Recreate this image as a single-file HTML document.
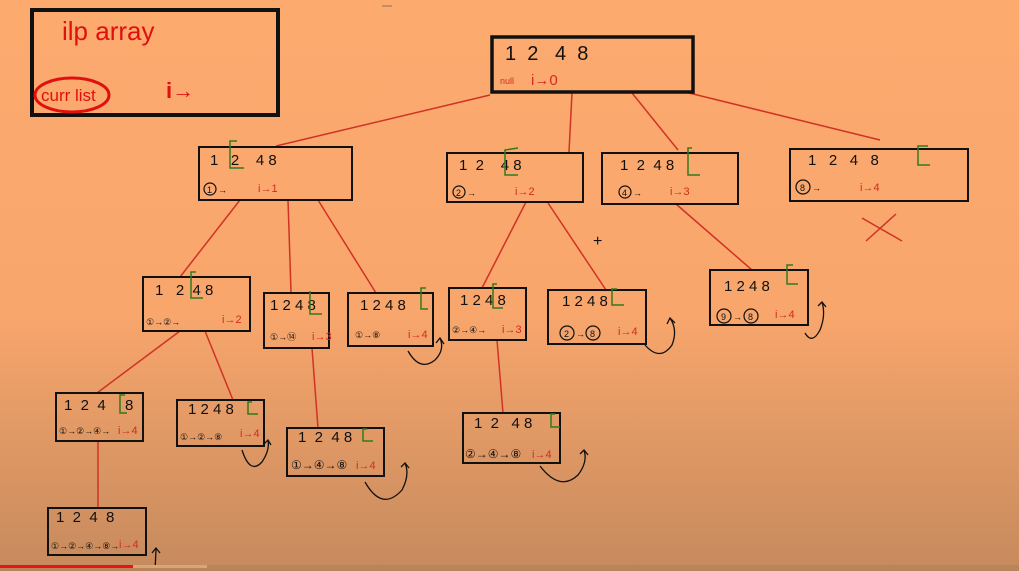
<!DOCTYPE html>
<html><head><meta charset="utf-8"><style>
html,body{margin:0;padding:0;width:1019px;height:571px;overflow:hidden}
svg{display:block}
text{font-family:"Liberation Sans",sans-serif}
.n{font-size:15px;fill:#111}
.r{font-size:11px;fill:#d42a22}
.c{font-size:9px;fill:#111}
.b{fill:none;stroke:#111;stroke-width:2}
.l{stroke:#d03226;stroke-width:1.5}
.g{fill:none;stroke:#2f7a1e;stroke-width:1.5}
.ci{fill:none;stroke:#111;stroke-width:1.2}
.cu{fill:none;stroke:#111;stroke-width:1.3}
</style></head><body>
<svg width="1019" height="571" viewBox="0 0 1019 571">
<defs><linearGradient id="bg" x1="0" y1="0" x2="0" y2="1">
<stop offset="0" stop-color="#fcaa6e"/><stop offset="0.55" stop-color="#f8a66c"/><stop offset="1" stop-color="#c68a5d"/></linearGradient></defs>
<rect width="1019" height="571" fill="url(#bg)"/>

<!-- legend -->
<rect x="32" y="10" width="246" height="105" fill="none" stroke="#111" stroke-width="4"/>
<text x="62" y="40" style="font-size:26px;fill:#e01010">ilp array</text>
<ellipse cx="72" cy="95" rx="37" ry="17" fill="none" stroke="#e01010" stroke-width="3"/>
<text x="41" y="101" style="font-size:17px;fill:#e01010">curr list</text>
<text x="166" y="98" style="font-size:22px;fill:#e01010;font-weight:bold">i→</text>

<!-- connectors -->
<g class="l">
<line x1="490" y1="95" x2="276" y2="146"/><line x1="572" y1="93" x2="569" y2="152"/>
<line x1="632" y1="93" x2="678" y2="150"/><line x1="685" y1="92" x2="880" y2="140"/>
<line x1="240" y1="200" x2="180" y2="277"/><line x1="288" y1="200" x2="291" y2="292"/>
<line x1="318" y1="200" x2="376" y2="293"/>
<line x1="526" y1="202" x2="482" y2="288"/><line x1="548" y1="203" x2="606" y2="290"/>
<line x1="676" y1="204" x2="752" y2="270"/>
<line x1="180" y1="331" x2="97" y2="393"/><line x1="205" y1="331" x2="233" y2="400"/>
<line x1="312" y1="348" x2="318" y2="428"/>
<line x1="497" y1="340" x2="503" y2="413"/>
<line x1="98" y1="441" x2="98" y2="508"/>
<line x1="862" y1="218" x2="902" y2="241"/><line x1="896" y1="214" x2="866" y2="241"/>
</g>

<!-- root -->
<rect x="492" y="37" width="201" height="55" fill="none" stroke="#111" stroke-width="3.5"/>
<text x="505" y="60" style="font-size:20px;fill:#111">1&#160;&#160;2&#160;&#160;&#160;4&#160;&#160;8</text>
<text x="500" y="84" style="font-size:9px;fill:#d42a22">null</text>
<text x="531" y="85" style="font-size:15px;fill:#d42a22">i→0</text>

<!-- L1 -->
<rect x="199" y="147" width="153" height="53" class="b"/>
<text x="210" y="165" class="n">1&#160;&#160;&#160;2&#160;&#160;&#160;&#160;4 8</text>
<path d="M237 141 L230 141 L230 168 L244 168" class="g"/>
<circle cx="210" cy="189" r="6" class="ci"/><text x="207" y="193" class="c">1</text><text x="218" y="193" class="c">→</text>
<text x="258" y="192" class="r">i→1</text>

<rect x="447" y="153" width="136" height="49" class="b"/>
<text x="459" y="170" class="n">1&#160;&#160;2&#160;&#160;&#160;&#160;4 8</text>
<path d="M518 148 L505 150 L505 175 L518 175" class="g"/>
<circle cx="459" cy="192" r="6" class="ci"/><text x="456" y="196" class="c">2</text><text x="467" y="196" class="c">→</text>
<text x="515" y="195" class="r">i→2</text>

<rect x="602" y="153" width="136" height="51" class="b"/>
<text x="620" y="170" class="n">1&#160;&#160;2&#160;&#160;4&#160;8</text>
<path d="M692 148 L688 148 L688 175 L700 175" class="g"/>
<circle cx="625" cy="192" r="6" class="ci"/><text x="622" y="196" class="c">4</text><text x="633" y="196" class="c">→</text>
<text x="670" y="195" class="r">i→3</text>

<rect x="790" y="149" width="178" height="52" class="b"/>
<text x="808" y="165" class="n">1&#160;&#160;&#160;2&#160;&#160;&#160;4&#160;&#160;&#160;8</text>
<path d="M928 146 L918 146 L918 165 L930 165" class="g"/>
<circle cx="803" cy="187" r="7" class="ci"/><text x="800" y="191" class="c">8</text><text x="812" y="191" class="c">→</text>
<text x="860" y="191" class="r">i→4</text>

<!-- L2 -->
<rect x="143" y="277" width="107" height="54" class="b"/>
<text x="155" y="295" class="n">1&#160;&#160;&#160;2&#160;&#160;4 8</text>
<path d="M196 272 L191 272 L191 298 L203 298" class="g"/>
<text x="146" y="325" class="c">①→②→</text><text x="222" y="323" class="r">i→2</text>

<rect x="264" y="293" width="65" height="55" class="b"/>
<text x="270" y="310" class="n">1 2 4 8</text>
<path d="M310 291 L310 314 L322 314" class="g"/>
<text x="270" y="340" class="c">①→⑭</text><text x="312" y="340" class="r">i→3</text>

<rect x="348" y="293" width="85" height="53" class="b"/>
<text x="360" y="310" class="n">1 2 4 8</text>
<path d="M426 288 L421 288 L421 309 L428 309" class="g"/>
<text x="355" y="338" class="c">①→⑧</text><text x="408" y="338" class="r">i→4</text>

<rect x="449" y="288" width="77" height="52" class="b"/>
<text x="460" y="305" class="n">1 2 4 8</text>
<path d="M497 284 L493 284 L493 308 L503 308" class="g"/>
<text x="452" y="333" class="c">②→④→</text><text x="502" y="333" class="r">i→3</text>

<rect x="548" y="290" width="98" height="54" class="b"/>
<text x="562" y="306" class="n">1 2 4 8</text>
<path d="M617 289 L612 289 L612 305 L624 305" class="g"/>
<circle cx="567" cy="333" r="7" class="ci"/><text x="564" y="337" class="c">2</text><text x="576" y="337" class="c">→</text>
<circle cx="593" cy="333" r="7" class="ci"/><text x="590" y="337" class="c">8</text>
<text x="618" y="335" class="r">i→4</text>

<rect x="710" y="270" width="98" height="55" class="b"/>
<text x="724" y="291" class="n">1 2 4 8</text>
<path d="M793 265 L787 265 L787 284 L798 284" class="g"/>
<circle cx="724" cy="316" r="7" class="ci"/><text x="721" y="320" class="c">9</text><text x="733" y="320" class="c">→</text>
<circle cx="751" cy="316" r="7" class="ci"/><text x="748" y="320" class="c">8</text>
<text x="775" y="318" class="r">i→4</text>

<!-- L3 -->
<rect x="56" y="393" width="87" height="48" class="b"/>
<text x="64" y="410" class="n">1&#160;&#160;2&#160;&#160;4</text>
<text x="125" y="410" class="n">8</text>
<path d="M125 395 L120 395 L120 413 L127 413" class="g"/>
<text x="59" y="434" class="c">①→②→④→</text><text x="118" y="434" class="r">i→4</text>

<rect x="177" y="400" width="87" height="46" class="b"/>
<text x="188" y="414" class="n">1 2 4 8</text>
<path d="M252 402 L248 402 L248 414 L258 414" class="g"/>
<text x="180" y="440" class="c">①→②→⑧</text><text x="240" y="437" class="r">i→4</text>

<rect x="287" y="428" width="97" height="48" class="b"/>
<text x="298" y="442" class="n">1&#160;&#160;2&#160;&#160;4 8</text>
<path d="M367 429 L363 429 L363 441 L373 441" class="g"/>
<text x="291" y="469" style="font-size:12px;fill:#111">①→④→⑧</text><text x="356" y="469" class="r">i→4</text>

<rect x="463" y="413" width="97" height="50" class="b"/>
<text x="474" y="428" class="n">1&#160;&#160;2&#160;&#160;&#160;4 8</text>
<path d="M555 414 L551 414 L551 427 L560 427" class="g"/>
<text x="465" y="458" style="font-size:12px;fill:#111">②→④→⑧</text><text x="532" y="458" class="r">i→4</text>

<!-- L4 -->
<rect x="48" y="508" width="98" height="47" class="b"/>
<text x="56" y="522" class="n">1&#160;&#160;2&#160;&#160;4&#160;&#160;8</text>
<text x="51" y="549" class="c">①→②→④→⑧→</text><text x="119" y="548" class="r">i→4</text>

<!-- curved arrows -->
<g class="cu">
<path d="M408 351 Q420 372 435 360 Q445 350 440 338 M436 343 L440 338 L444 344"/>
<path d="M645 345 Q660 362 672 345 Q678 330 670 318 M667 324 L670 318 L675 323"/>
<path d="M805 333 Q812 345 820 330 Q826 315 822 302 M818 306 L822 302 L826 307"/>
<path d="M242 450 Q250 475 262 462 Q270 450 268 440 M264 444 L268 440 L271 445"/>
<path d="M365 482 Q382 512 402 490 Q410 475 405 463 M401 467 L405 463 L409 468"/>
<path d="M540 466 Q560 492 578 475 Q588 462 584 450 M580 454 L584 450 L588 455"/>
<path d="M155 571 L156 549 M152 553 L156 548 L160 553"/>
</g>

<!-- markers -->
<text x="593" y="246" style="font-size:16px;fill:#111">+</text>
<line x1="382" y1="6" x2="392" y2="6" stroke="#777" stroke-width="1"/>

<!-- progress bar -->
<rect x="0" y="565" width="1019" height="6" fill="#b8845a"/>
<rect x="0" y="565" width="207" height="3" fill="#d8a47a"/>
<rect x="0" y="565" width="133" height="3" fill="#e8141a"/>
</svg>
</body></html>
